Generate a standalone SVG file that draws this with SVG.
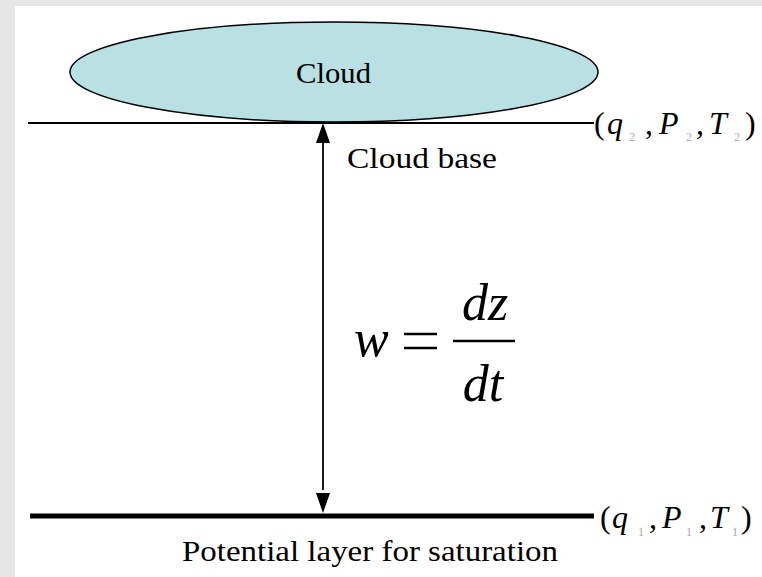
<svg xmlns="http://www.w3.org/2000/svg" width="762" height="577" viewBox="0 0 762 577">
<defs>
<style>
.lbl{font-family:"Liberation Serif",serif;font-size:29px;fill:#000}
.var{font-family:"Liberation Serif",serif;font-style:italic;font-size:32px;fill:#000}
.par{font-family:"Liberation Serif",serif;font-size:32px;fill:#000}
.sub{font-family:"Liberation Serif",serif;font-size:12px;fill:#aaa}
.math{font-family:"Liberation Serif",serif;font-style:italic;font-size:52px;fill:#000}
</style>
</defs>
<rect width="762" height="577" fill="#e6e6e6"/>
<rect x="15" y="6" width="747" height="571" fill="#fff"/>
<g id="cloud">
<ellipse cx="334" cy="72" rx="264" ry="50" fill="#b9e0e3" stroke="#000" stroke-width="1.5"/>
<text class="lbl" x="296" y="83" textLength="75" lengthAdjust="spacingAndGlyphs">Cloud</text>
</g>
<g id="cloud-base">
<line x1="28" y1="123" x2="594" y2="123" stroke="#000" stroke-width="1.8"/>
<text class="lbl" x="347" y="168" textLength="150" lengthAdjust="spacingAndGlyphs">Cloud base</text>
<text class="par" x="594" y="134">(</text>
<text class="var" x="607" y="134">q</text>
<text class="sub" x="629" y="141">2</text>
<text class="par" x="645" y="134">,</text>
<text class="var" x="659" y="134">P</text>
<text class="sub" x="686" y="141">2</text>
<text class="par" x="696" y="134">,</text>
<text class="var" x="709" y="134">T</text>
<text class="sub" x="734" y="141">2</text>
<text class="par" x="745" y="134">)</text>
</g>
<g id="saturation-layer">
<line x1="30" y1="516" x2="594" y2="516" stroke="#000" stroke-width="5"/>
<text class="lbl" x="182" y="561" textLength="376" lengthAdjust="spacingAndGlyphs">Potential layer for saturation</text>
<text class="par" x="600" y="528">(</text>
<text class="var" x="612" y="528">q</text>
<text class="sub" x="638" y="536">1</text>
<text class="par" x="649" y="528">,</text>
<text class="var" x="662" y="528">P</text>
<text class="sub" x="686" y="536">1</text>
<text class="par" x="699" y="528">,</text>
<text class="var" x="710" y="528">T</text>
<text class="sub" x="732" y="536">1</text>
<text class="par" x="741" y="528">)</text>
</g>
<g id="connectors">
<line x1="323" y1="490" x2="323" y2="140" stroke="#000" stroke-width="1.8"/>
<path d="M316,143 L323,123 L330,143 z" fill="#000"/>
<path d="M316,493 L323,513 L330,493 z" fill="#000"/>
</g>
<g id="formula">
<text class="math" x="354" y="356">w</text>
<line x1="404" y1="334" x2="437" y2="334" stroke="#000" stroke-width="2.5"/>
<line x1="404" y1="348" x2="437" y2="348" stroke="#000" stroke-width="2.5"/>
<line x1="453" y1="341" x2="515" y2="341" stroke="#000" stroke-width="2.5"/>
<text class="math" x="485" y="320" text-anchor="middle">dz</text>
<text class="math" x="483" y="401" text-anchor="middle">dt</text>
</g>
</svg>
